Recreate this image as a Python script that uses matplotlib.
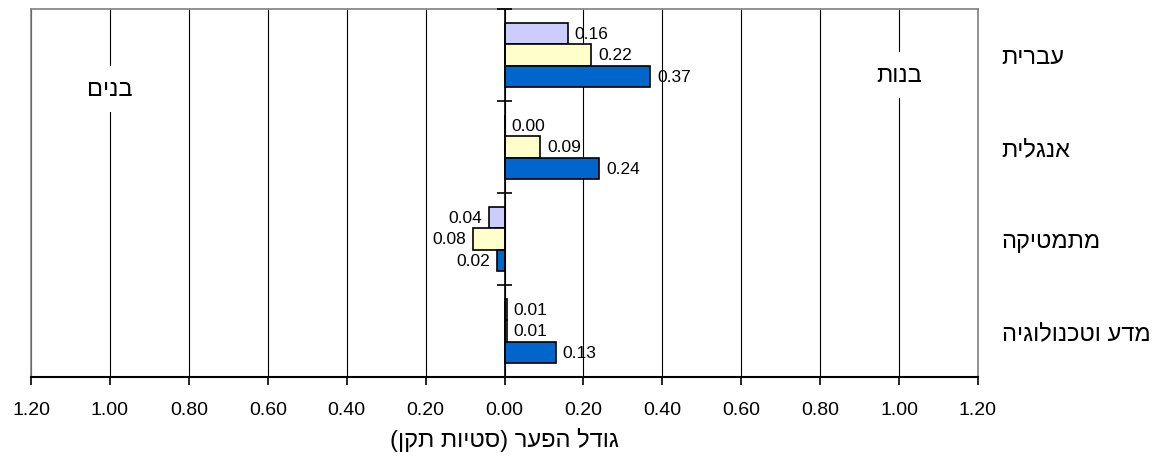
import numpy as np
import matplotlib
matplotlib.use("Agg")
import matplotlib.pyplot as plt
from matplotlib.ticker import FuncFormatter

plt.rcParams["font.family"] = ["Liberation Sans", "DejaVu Sans"]

# subjects top to bottom, gap size in std units (negative = boys ahead)
subjects = ["עברית", "אנגלית", "מתמטיקה", "מדע וטכנולוגיה"]
series_a = [0.16, 0.00, -0.04, 0.006]   # lavender
series_b = [0.22, 0.09, -0.08, 0.006]   # light yellow
series_c = [0.37, 0.24, -0.02, 0.13]    # blue
x_ticks = [-1.2, -1.0, -0.8, -0.6, -0.4, -0.2, 0.0, 0.2, 0.4, 0.6, 0.8, 1.0, 1.2]

x_label = "גודל הפער (סטיות תקן)"
boys_label = "בנים"
girls_label = "בנות"

colors = ["#CCCCFF", "#FFFFCC", "#0066CC"]


def rtl(s):
    # matplotlib has no bidi support: reverse to visual order and mirror brackets
    swap = {"(": ")", ")": "("}
    return "".join(swap.get(ch, ch) for ch in reversed(s))


fig = plt.figure(figsize=(11.6, 4.6), dpi=100)
ax = fig.add_axes([31 / 1160, 1 - 378 / 460, (978 - 31) / 1160, 368 / 460])

n = len(subjects)
ypos = np.arange(n)[::-1].astype(float)
h = 0.23

for i, vals in enumerate([series_a, series_b, series_c]):
    bars = ax.barh(ypos + (1 - i) * h, vals, height=h, color=colors[i],
                   edgecolor="black", linewidth=1.2, zorder=3)
    ax.bar_label(bars, labels=[f"{abs(v):.2f}" for v in vals], padding=5,
                 fontsize=12.5)

ax.set_xlim(-1.2, 1.2)
ax.set_ylim(-0.5, n - 0.5)

# zero line with crosses at category boundaries
ax.axvline(0, color="black", linewidth=1.2, zorder=4)
bounds = np.arange(n + 1) - 0.5
ax.hlines(bounds, -0.02, 0.02, color="black", linewidth=1.2, zorder=4, clip_on=False)

ax.set_xticks(x_ticks)
ax.xaxis.set_major_formatter(FuncFormatter(lambda v, p: f"{abs(v):.2f}"))
ax.tick_params(axis="x", direction="out", length=6, width=1.2, labelsize=14, pad=11)
ax.xaxis.grid(True, color="black", linewidth=0.8)
ax.set_axisbelow(True)

ax.set_yticks(ypos)
ax.set_yticklabels([rtl(s) for s in subjects])
ax.tick_params(axis="y", length=0, labelleft=False, labelright=True, labelsize=17, pad=17)

for side in ["top", "right", "left"]:
    ax.spines[side].set_color("#808080")
    ax.spines[side].set_linewidth(1.2)
ax.spines["bottom"].set_color("black")
ax.spines["bottom"].set_linewidth(1.5)

ax.set_xlabel(rtl(x_label), fontsize=17, labelpad=7)

box = dict(boxstyle="square,pad=0.5", fc="white", ec="none")
ax.text(-1.0, 2.63, rtl(boys_label), ha="center", va="center", fontsize=17, bbox=box, zorder=2)
ax.text(1.0, 2.78, rtl(girls_label), ha="center", va="center", fontsize=17, bbox=box, zorder=2)

fig.savefig("out.png", dpi=100)
